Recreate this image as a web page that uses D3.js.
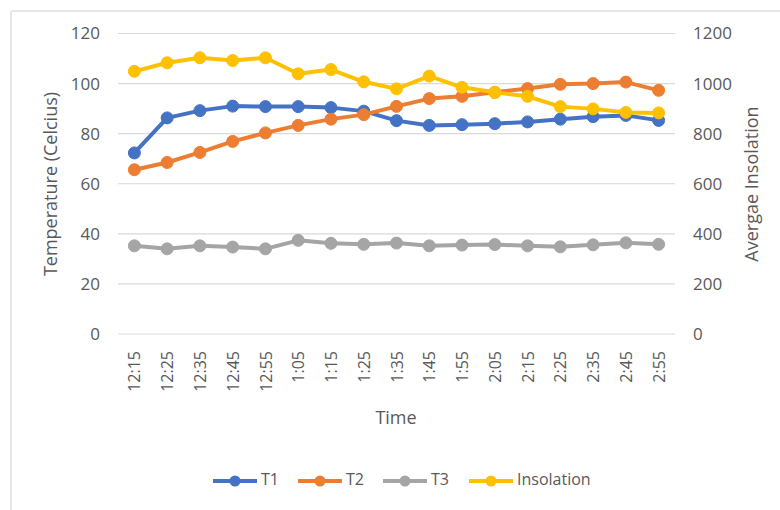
<!DOCTYPE html>
<html>
<head>
<meta charset="utf-8">
<script src="https://cdn.jsdelivr.net/npm/d3@7"></script>
<style>
  html, body { margin: 0; padding: 0; background: #fff; }
  text { font-family: "Open Sans", "Noto Sans", sans-serif; fill: #595959; }
</style>
</head>
<body>
<svg id="chart" width="780" height="510"></svg>
<script>
const times = ["12:15","12:25","12:35","12:45","12:55","1:05","1:15","1:25","1:35","1:45","1:55","2:05","2:15","2:25","2:35","2:45","2:55"];
const t1 = [72.3, 86.3, 89.2, 91.0, 90.8, 90.8, 90.4, 89.0, 85.2, 83.3, 83.6, 84.0, 84.7, 85.8, 86.8, 87.3, 85.3];
const t2 = [65.6, 68.5, 72.5, 76.9, 80.3, 83.3, 85.8, 87.6, 90.9, 94.0, 94.9, 96.5, 98.0, 99.7, 100.0, 100.6, 97.3];
const t3 = [35.2, 34.0, 35.2, 34.7, 34.0, 37.4, 36.2, 35.8, 36.3, 35.2, 35.5, 35.7, 35.2, 34.8, 35.6, 36.4, 35.8];
const insolation = [1049, 1083, 1103, 1092, 1103, 1039, 1056, 1007, 979, 1030, 985, 965, 949, 908, 899, 885, 883];
const leftTicks = [0, 20, 40, 60, 80, 100, 120];
const rightTicks = [0, 200, 400, 600, 800, 1000, 1200];
const seriesNames = ["T1", "T2", "T3", "Insolation"];
const colors = ["#4472C4", "#ED7D31", "#A5A5A5", "#FFC000"];

const svg = d3.select("#chart");
const pLeft = 118, pRight = 675, pTop = 33.5, pBottom = 334;

// chart frame (only top/left visible)
svg.append("line").attr("x1", 11).attr("x2", 780).attr("y1", 11).attr("y2", 11)
  .attr("stroke", "#e6e6e6").attr("stroke-width", 2);
svg.append("line").attr("x1", 11).attr("x2", 11).attr("y1", 11).attr("y2", 510)
  .attr("stroke", "#e6e6e6").attr("stroke-width", 2);

const x = d3.scalePoint().domain(times).range([pLeft, pRight]).padding(0.5);
const yL = d3.scaleLinear().domain([0, 120]).range([pBottom, pTop]);
const yR = d3.scaleLinear().domain([0, 1200]).range([pBottom, pTop]);

// gridlines
svg.append("g").selectAll("line").data(leftTicks).join("line")
  .attr("x1", pLeft).attr("x2", pRight)
  .attr("y1", d => yL(d)).attr("y2", d => yL(d))
  .attr("stroke", "#d9d9d9").attr("stroke-width", 1.2);

// left axis
const axL = svg.append("g").attr("transform", `translate(${pLeft},0)`)
  .call(d3.axisLeft(yL).tickValues(leftTicks).tickFormat(d3.format("d")).tickSize(0).tickPadding(18));
axL.select(".domain").remove();
axL.selectAll("text").style("font-size", "17px").attr("fill", "#595959")
  .style("font-family", '"Open Sans", sans-serif');

// right axis
const axR = svg.append("g").attr("transform", `translate(${pRight},0)`)
  .call(d3.axisRight(yR).tickValues(rightTicks).tickFormat(d3.format("d")).tickSize(0).tickPadding(18));
axR.select(".domain").remove();
axR.selectAll("text").style("font-size", "17px").attr("fill", "#595959")
  .style("font-family", '"Open Sans", sans-serif');

// bottom axis
const axB = svg.append("g").attr("transform", `translate(0,${pBottom})`)
  .call(d3.axisBottom(x).tickSize(0).tickPadding(0));
axB.select(".domain").remove();
axB.selectAll("text")
  .style("font-size", "16px").attr("fill", "#595959")
  .style("font-family", '"Open Sans", sans-serif')
  .attr("text-anchor", "end")
  .attr("transform", "rotate(-90)")
  .attr("x", -17).attr("y", 0).attr("dy", "0.35em");

// axis titles
svg.append("text").attr("transform", "translate(52,184) rotate(-90)")
  .attr("text-anchor", "middle").attr("dominant-baseline", "middle")
  .style("font-size", "18px").text("Temperature (Celcius)");
svg.append("text").attr("transform", "translate(753,184) rotate(-90)")
  .attr("text-anchor", "middle").attr("dominant-baseline", "middle")
  .style("font-size", "18px").text("Avergae Insolation");
svg.append("text").attr("x", 396).attr("y", 419)
  .attr("text-anchor", "middle").attr("dominant-baseline", "middle")
  .style("font-size", "18px").text("Time");

// series
const series = [
  { name: "T1", values: t1, scale: yL },
  { name: "T2", values: t2, scale: yL },
  { name: "T3", values: t3, scale: yL },
  { name: "Insolation", values: insolation, scale: yR }
];
series.forEach((s, i) => {
  const line = d3.line().x((d, j) => x(times[j])).y(d => s.scale(d));
  const g = svg.append("g");
  g.append("path").datum(s.values).attr("d", line)
    .attr("fill", "none").attr("stroke", colors[i]).attr("stroke-width", 4)
    .attr("stroke-linejoin", "round");
  g.selectAll("circle").data(s.values).join("circle")
    .attr("cx", (d, j) => x(times[j])).attr("cy", d => s.scale(d))
    .attr("r", 6).attr("fill", colors[i]).attr("stroke", colors[i]).attr("stroke-width", 1);
});

// legend
const legendX = [213, 298, 383, 469];
const lg = svg.append("g");
seriesNames.forEach((n, i) => {
  const lx = legendX[i], ly = 481;
  lg.append("line").attr("x1", lx).attr("x2", lx + 44).attr("y1", ly).attr("y2", ly)
    .attr("stroke", colors[i]).attr("stroke-width", 4);
  lg.append("circle").attr("cx", lx + 22).attr("cy", ly).attr("r", 5.5).attr("fill", colors[i]);
  lg.append("text").attr("x", lx + 48).attr("y", ly).attr("dominant-baseline", "middle")
    .style("font-size", "16px").text(n);
});
</script>
</body>
</html>
